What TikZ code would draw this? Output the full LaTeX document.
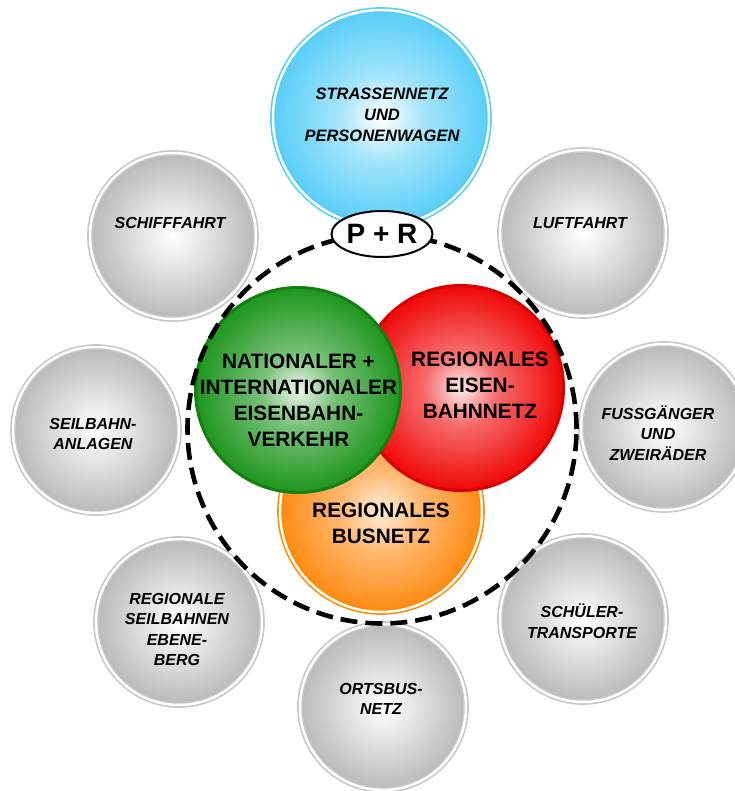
\documentclass[tikz,border=0pt]{standalone}
\usepackage{fontspec}
\setmainfont{Liberation Sans}
\usetikzlibrary{shapes.geometric}
\definecolor{gring}{HTML}{C6C6C6}
\definecolor{gedge}{HTML}{B9B9B9}
\definecolor{bring}{HTML}{55CDF5}
\definecolor{bedge}{HTML}{58CEF8}
\definecolor{gnedge}{HTML}{1E961E}
\definecolor{gnline}{HTML}{138013}
\definecolor{rdedge}{HTML}{F00808}
\definecolor{rdline}{HTML}{DA0000}
\definecolor{oredge}{HTML}{FF8A12}
\definecolor{orring}{HTML}{FF8C00}
\pgfdeclareradialshading{redshade}{\pgfpoint{0bp}{0bp}}{color(0bp)=(white!92!rdedge); color(9bp)=(white!40!rdedge); color(25bp)=(rdedge); color(50bp)=(rdedge)}
\pgfdeclareradialshading{greenshade}{\pgfpoint{0bp}{0bp}}{color(0bp)=(white!92!gnedge); color(9bp)=(white!40!gnedge); color(25bp)=(gnedge); color(50bp)=(gnedge)}
\pgfdeclareradialshading{orangeshade}{\pgfpoint{0bp}{0bp}}{color(0bp)=(white!85!oredge); color(10bp)=(white!40!oredge); color(25bp)=(oredge); color(50bp)=(oredge)}
\pgfdeclareradialshading{blueshade}{\pgfpoint{0bp}{0bp}}{color(0bp)=(white); color(10bp)=(white!45!bedge); color(25bp)=(bedge); color(50bp)=(bedge)}
\begin{document}
\begin{tikzpicture}[x=1pt,y=-1pt,
  disc/.style={circle, inner sep=0pt, minimum size=#1},
  sat/.style={disc=166pt, draw=gring, double=white, double distance=2.5pt, line width=1.6pt, inner color=white, outer color=gedge},
  blueball/.style={disc=216pt, draw=bring, double=white, double distance=2.5pt, line width=1.6pt, shading=blueshade},
  orangeball/.style={disc=202pt, draw=orring, double=white, double distance=2.5pt, line width=1.6pt, shading=orangeshade},
  redball/.style={disc=205pt, draw=rdline, line width=3pt, shading=redshade},
  greenball/.style={disc=205pt, draw=gnline, line width=3pt, shading=greenshade},
  stxt/.style={align=center, inner sep=0pt, font=\bfseries\itshape\fontsize{16}{20.5}\selectfont},
  btxt/.style={align=center, inner sep=0pt, font=\bfseries\itshape\fontsize{16.5}{21}\selectfont},
  mtxt/.style={align=center, inner sep=0pt, font=\bfseries\fontsize{20.8}{26}\selectfont},
  dashring/.style={circle, inner sep=0pt, minimum size=389pt, draw=black, line width=4.6pt, dash pattern=on 17pt off 8pt},
  prbox/.style={ellipse, draw=black, line width=2pt, fill=white, minimum width=101pt, minimum height=46pt, inner sep=0pt, font=\bfseries\fontsize{28}{30}\selectfont}
]
\useasboundingbox (0,0) rectangle (734,791);
% satellites
\node[sat] (schiff) at (173,236) {};
\node[sat] (luft) at (583,233) {};
\node[sat] (seilanl) at (96,430) {};
\node[sat] (fuss) at (664,427) {};
\node[sat] (regseil) at (179,622) {};
\node[sat] (schuel) at (583,619) {};
\node[sat] (orts) at (383,707) {};
% main
\node[blueball] (strasse) at (381,118) {};
\node[orangeball] (bus) at (381,511) {};
\node[redball] (regbahn) at (461,388) {};
\node[greenball] (natbahn) at (298,390) {};
\node[dashring] (ring) at (382,429) {};
\node[prbox] (pr) at (382,234) {P + R};
% texts
\node[btxt] (tstrasse) at (382,115) {STRASSENNETZ\\UND\\PERSONENWAGEN};
\node[stxt] (tluft) at (580,223) {LUFTFAHRT};
\node[stxt] (tschiff) at (170,223) {SCHIFFFAHRT};
\node[stxt] (tseilanl) at (93,434) {SEILBAHN-\\ANLAGEN};
\node[stxt] (tfuss) at (658,433) {FUSSGÄNGER\\UND\\ZWEIRÄDER};
\node[stxt] (tregseil) at (177,629.5) {REGIONALE\\SEILBAHNEN\\EBENE-\\BERG};
\node[stxt] (tschuel) at (582,621) {SCHÜLER-\\TRANSPORTE};
\node[stxt] (torts) at (381,699) {ORTSBUS-\\NETZ};
\node[mtxt] (tnat) at (298.5,400) {NATIONALER +\\INTERNATIONALER\\EISENBAHN-\\VERKEHR};
\node[mtxt] (treg) at (480,385) {REGIONALES\\EISEN-\\BAHNNETZ};
\node[mtxt] (tbus) at (381,523) {REGIONALES\\BUSNETZ};
\end{tikzpicture}
\end{document}
